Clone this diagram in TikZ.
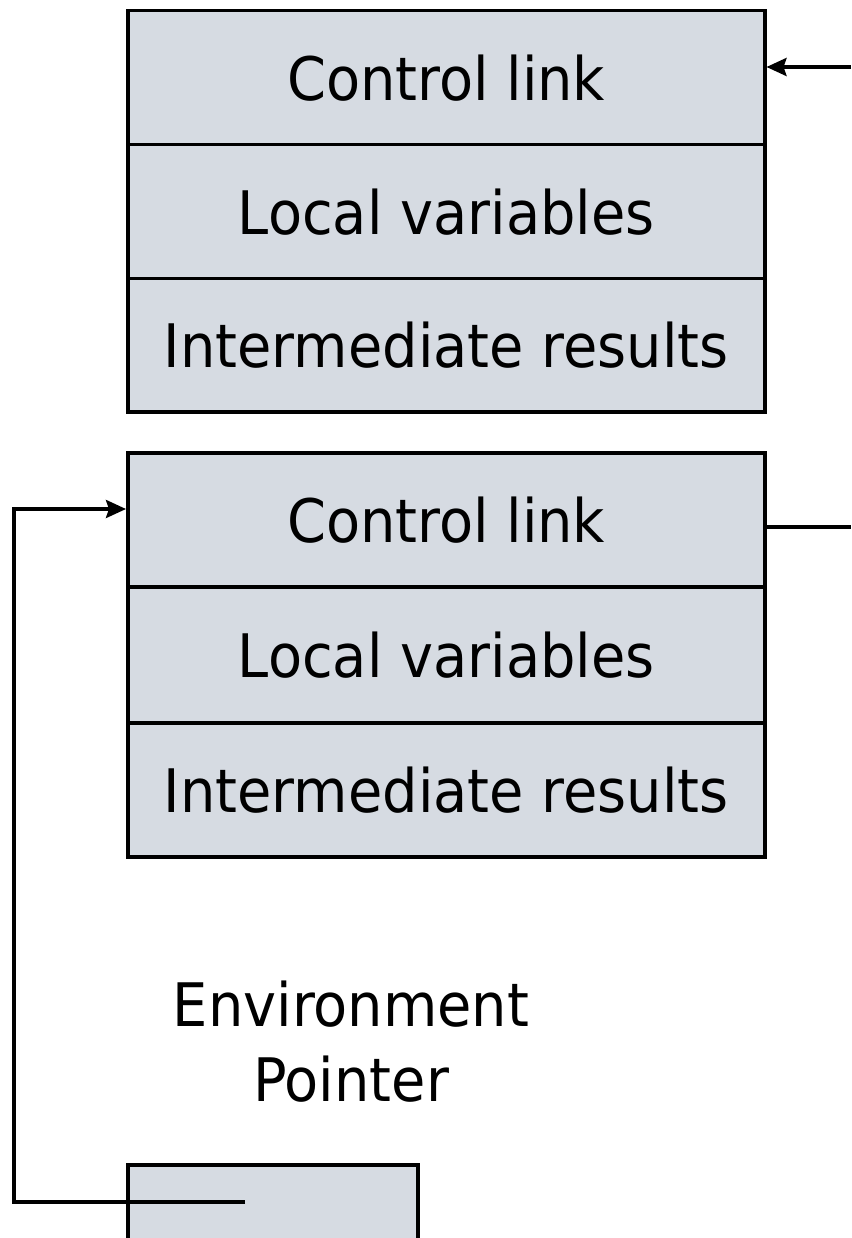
\documentclass[tikz,border=0pt]{standalone}
\usepackage{fontspec}
\setmainfont{DejaVu Sans}[FakeStretch=0.93]
\usetikzlibrary{arrows.meta}
\definecolor{cellfill}{RGB}{214,219,226}
\begin{document}
\begin{tikzpicture}[x=1pt,y=-1pt,
  cell/.style={draw=black,line width=3.5pt,fill=cellfill,minimum width=637pt,inner sep=0pt,anchor=north west,font=\fontsize{60}{72}\selectfont},
  conn/.style={draw=black,line width=3.5pt},
  headend/.style={arrows={-Stealth[length=20pt,width=18pt,inset=3pt]}}]
\useasboundingbox (0,0) rectangle (851,1238);
% frame 1
\node[cell,minimum height=134pt] (a1) at (126,9) {Control link};
\node[cell,minimum height=134pt] (a2) at (126,143) {Local variables};
\node[cell,minimum height=133pt] (a3) at (126,277) {Intermediate results};
% frame 2
\node[cell,minimum height=134pt] (b1) at (126,451) {Control link};
\node[cell,minimum height=136pt] (b2) at (126,585) {Local variables};
\node[cell,minimum height=134pt] (b3) at (126,721) {Intermediate results};
% environment pointer
\node[align=center,inner sep=0pt,font=\fontsize{60}{75}\selectfont] (envlabel) at (351,1042) {Environment\\Pointer};
\begin{scope}
\clip (0,0) rectangle (851,1238);
\node[draw=black,line width=3.5pt,fill=cellfill,minimum width=290pt,minimum height=100pt,anchor=north west] (ep) at (126,1163) {};
\end{scope}
% connectors
\coordinate (in1) at (851,67);
\coordinate (t1) at (a1.east |- in1);
\draw[conn,headend] (in1) -- (t1);
\coordinate (o2) at (851,527);
\coordinate (s2) at (b1.east |- o2);
\draw[conn] (s2) -- (o2);
\coordinate (epstart) at (245,1202);
\coordinate (c1) at (14,1202);
\coordinate (c2) at (14,509);
\coordinate (t2) at (b1.west |- c2);
\draw[conn,headend] (epstart) -- (c1) -- (c2) -- (t2);
\end{tikzpicture}
\end{document}
